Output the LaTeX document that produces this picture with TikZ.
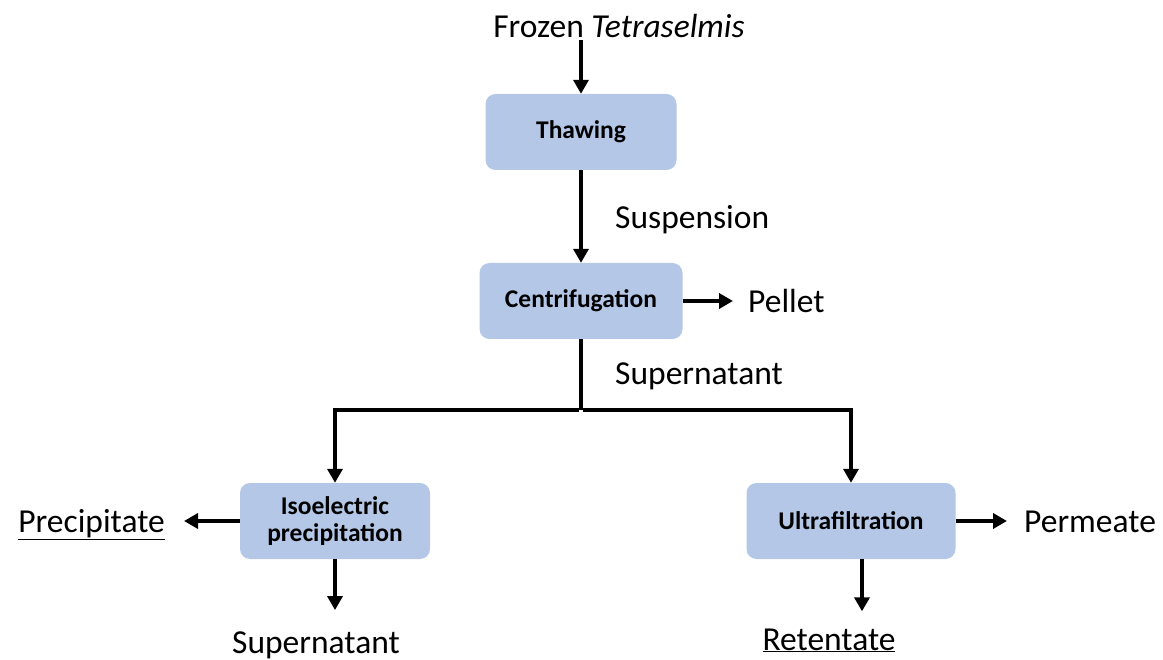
\documentclass[tikz,border=0pt]{standalone}
\usepackage{fontspec}
\setmainfont{Carlito}
\usetikzlibrary{arrows.meta,positioning}
\definecolor{boxblue}{RGB}{180,199,231}
\tikzset{
  >={Triangle[length=14pt,width=15pt]},
  flow/.style={->, line width=4pt, draw=black},
  trunk/.style={line width=4pt, draw=black},
  unit/.style={rounded corners=10pt, fill=boxblue, draw=none, align=center,
    minimum height=76pt, inner sep=4pt, font=\fontsize{25.5}{28}\selectfont\bfseries},
  stream/.style={inner sep=0pt, font=\fontsize{33.5}{38}\selectfont}
}
\begin{document}
\begin{tikzpicture}[x=1pt, y=-1pt]
  \useasboundingbox (0,0) rectangle (1163,660);

  % Process units.
  \node[unit, minimum width=191pt] (thaw) at (581,132) {Thawing};
  \node[unit, minimum width=203pt] (cent) at (581,301) {Centrifugation};
  \node[unit, minimum width=190pt] (iso) at (335,521) {Isoelectric\\[-1pt]precipitation};
  \node[unit, minimum width=209pt] (ultra) at (851,521) {Ultrafiltration};

  % Streams.
  \node[stream, anchor=base] (feed) at (619,38) {Frozen \textit{Tetraselmis}};
  \node[stream, anchor=base west] (susp) at (615,229) {Suspension};
  \node[stream, anchor=base west] (pellet) at (748,313) {Pellet};
  \node[stream, anchor=base west] (super) at (615,385) {Supernatant};
  \node[stream, anchor=base east] (precip) at (165,532) {\underline{Precipitate}};
  \node[stream, anchor=base] (superiso) at (316,653) {Supernatant};
  \node[stream, anchor=base west] (perm) at (1024,532) {Permeate};
  \node[stream, anchor=base] (reten) at (829,650) {\underline{Retentate}};

  \coordinate (split) at (581,410);

  % Main line.
  \draw[flow, shorten <=2pt] (thaw.north |- feed.south) -- (thaw.north);
  \draw[flow] (thaw) -- (cent);
  \draw[flow, shorten >=15pt] (cent.east) -- (cent.east -| pellet.west);

  % Split into both routes.
  \draw[trunk] (cent.south) -- (split);
  \draw[flow] ([xshift=-2pt]split) -| (iso.north);
  \draw[flow] ([xshift=2pt]split) -| (ultra.north);

  % Products.
  \draw[flow, shorten >=19pt] (iso.west) -- (iso.west -| precip.east);
  \draw[flow, shorten >=21pt] (iso.south) -- (iso.south |- superiso.north);
  \draw[flow, shorten >=17pt] (ultra.east) -- (ultra.east -| perm.west);
  \draw[flow, shorten >=17pt] ([xshift=11pt]ultra.south) -- ([xshift=11pt]ultra.south |- reten.north);
\end{tikzpicture}
\end{document}
